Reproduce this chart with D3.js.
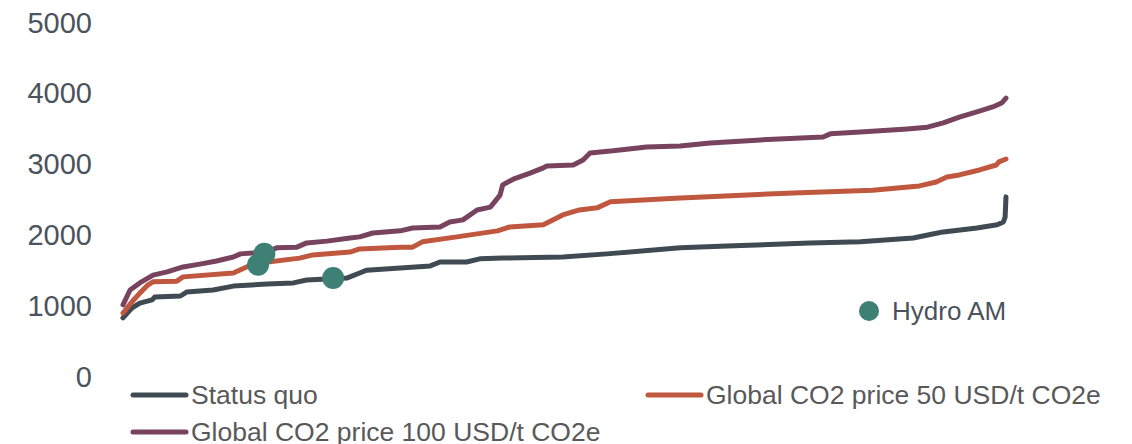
<!DOCTYPE html>
<html>
<head>
<meta charset="utf-8">
<script src="https://cdn.jsdelivr.net/npm/d3@7"></script>
<style>
  html, body { margin: 0; padding: 0; background: #fff; }
  svg text { font-family: "Liberation Sans", Arial, sans-serif; }
</style>
</head>
<body>
<div id="chart"></div>
<script>
// Cost curve - three scenarios plus Hydro AM assets
(function() {
	'use strict';

	// Data (x is rank along the curve, 0-100; y)
	const statusX = [0, 1.0, 1.9, 3.3, 3.6, 6.5, 7.2, 10.2, 12.5, 16.3, 19.3, 20.8, 25.4, 26.8, 27.6, 31.4, 34.8, 35.9, 38.9, 40.4,
		43.0, 49.8, 54.8, 63.1, 68.4, 77.8, 83.5, 89.5, 91.7, 92.9, 96.7, 99.0, 99.7, 99.9, 100];
	const statusY = [820, 960, 1030, 1075, 1115, 1130, 1185, 1215, 1270, 1300, 1315, 1355, 1385, 1455, 1495, 1525, 1555, 1610, 1610, 1655,
		1665, 1680, 1725, 1810, 1835, 1880, 1895, 1950, 2005, 2035, 2090, 2135, 2175, 2245, 2530];

	const co2_50X = [0, 1.0, 1.9, 2.8, 3.4, 6.1, 6.8, 12.5, 14.0, 15.5, 20.0, 21.5, 25.7, 26.8, 31.4, 32.8, 33.9, 37.8, 42.4, 43.8,
		47.6, 49.8, 51.7, 53.7, 55.2, 63.1, 67.6, 75.9, 84.9, 90.2, 92.1, 93.3, 94.7, 97.0, 98.9, 99.2, 100];
	const co2_50Y = [890, 1045, 1170, 1285, 1330, 1340, 1400, 1455, 1540, 1595, 1665, 1710, 1750, 1795, 1820, 1820, 1895, 1965, 2050, 2105,
		2135, 2275, 2345, 2375, 2460, 2515, 2540, 2585, 2625, 2685, 2740, 2810, 2840, 2910, 2980, 3025, 3065];

	const co2_100X = [0, 0.8, 1.9, 3.4, 5.0, 6.8, 8.7, 10.6, 12.5, 13.3, 16.3, 17.4, 19.7, 20.8, 23.1, 25.7, 26.8, 28.3, 31.4, 32.8,
		35.9, 37.0, 38.5, 40.1, 41.6, 42.7, 43.0, 44.2, 46.1, 47.6, 48.0, 51.0, 52.1, 52.9, 55.5, 59.3, 63.1, 66.5, 72.2, 79.3,
		80.1, 83.5, 88.8, 91.1, 92.9, 94.8, 96.7, 98.5, 99.5, 100];
	const co2_100Y = [1005, 1215, 1315, 1425, 1470, 1540, 1580, 1625, 1680, 1725, 1750, 1810, 1820, 1880, 1905, 1950, 1965, 2020, 2050, 2090,
		2105, 2175, 2205, 2345, 2385, 2555, 2700, 2780, 2865, 2940, 2965, 2980, 3050, 3150, 3180, 3235, 3250, 3290, 3335, 3375,
		3420, 3445, 3490, 3515, 3575, 3660, 3730, 3800, 3855, 3925];

	const hydroX = [15.3, 16.0, 23.8];
	const hydroY = [1570, 1725, 1385];

	const yTicks = [0, 1000, 2000, 3000, 4000, 5000];

	const seriesNames = ['Status quo', 'Global CO2 price 50 USD/t CO2e', 'Global CO2 price 100 USD/t CO2e'];
	const seriesColors = ['#404a53', '#c0573f', '#78435f'];
	const hydroName = 'Hydro AM';
	const hydroColor = '#3e7f76';

	const width = 1132;
	const height = 444;

	const svg = d3.select('#chart')
		.append('svg')
		.attr('width', width)
		.attr('height', height);

	const x = d3.scaleLinear().domain([0, 100]).range([123, 1006]);
	const y = d3.scaleLinear().domain([0, 5000]).range([376, 22]);

	// Y axis (labels only)
	const yAxis = svg.append('g')
		.attr('transform', 'translate(92,0)')
		.call(d3.axisLeft(y).tickValues(yTicks).tickSize(0).tickPadding(0).tickFormat(d3.format('d')));
	yAxis.select('.domain').remove();
	yAxis.selectAll('text')
		.attr('font-size', 29)
		.attr('fill', '#4b535c')
		.attr('dy', '0.35em');

	function zip(xs, ys) {
		return xs.map(function(v, i) { return [v, ys[i]]; });
	}

	const series = [
		zip(statusX, statusY),
		zip(co2_50X, co2_50Y),
		zip(co2_100X, co2_100Y)
	];

	const line = d3.line()
		.x(function(d) { return x(d[0]); })
		.y(function(d) { return y(d[1]); });

	svg.append('g')
		.selectAll('path')
		.data(series)
		.enter().append('path')
		.attr('d', line)
		.attr('fill', 'none')
		.attr('stroke', function(d, i) { return seriesColors[i]; })
		.attr('stroke-width', 5)
		.attr('stroke-linejoin', 'round')
		.attr('stroke-linecap', 'round');

	// Hydro AM points
	svg.append('g')
		.selectAll('circle')
		.data(zip(hydroX, hydroY))
		.enter().append('circle')
		.attr('cx', function(d) { return x(d[0]); })
		.attr('cy', function(d) { return y(d[1]); })
		.attr('r', 11)
		.attr('fill', hydroColor);

	// Hydro AM legend
	svg.append('circle')
		.attr('cx', 869)
		.attr('cy', 311)
		.attr('r', 10)
		.attr('fill', hydroColor);
	svg.append('text')
		.attr('x', 892)
		.attr('y', 311)
		.attr('dy', '0.35em')
		.attr('font-size', 26)
		.attr('fill', '#4b535c')
		.text(hydroName);

	// Bottom legend
	const legendPos = [[133, 395], [648, 395], [133, 432]];
	const legend = svg.append('g')
		.selectAll('g')
		.data(seriesNames)
		.enter().append('g')
		.attr('transform', function(d, i) { return 'translate(' + legendPos[i][0] + ',' + legendPos[i][1] + ')'; });

	legend.append('line')
		.attr('x1', 0)
		.attr('x2', 53)
		.attr('stroke', function(d, i) { return seriesColors[i]; })
		.attr('stroke-width', 5)
		.attr('stroke-linecap', 'round');

	legend.append('text')
		.attr('x', 58)
		.attr('dy', '0.35em')
		.attr('font-size', 26.5)
		.attr('fill', '#595959')
		.text(function(d) { return d; });
})();
</script>
</body>
</html>
